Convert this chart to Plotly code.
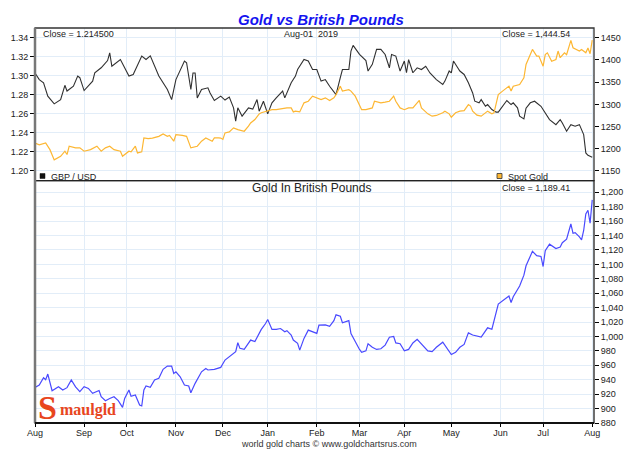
import plotly.graph_objects as go

# ---------------- data ----------------
gbp_dates = [
    "2018-08-01", "2018-08-03", "2018-08-07", "2018-08-09", "2018-08-14", "2018-08-17", "2018-08-21",
    "2018-08-22", "2018-08-27", "2018-08-29", "2018-08-30", "2018-09-03", "2018-09-07", "2018-09-10",
    "2018-09-13", "2018-09-18", "2018-09-19", "2018-09-20", "2018-09-26", "2018-10-02", "2018-10-04",
    "2018-10-10", "2018-10-12", "2018-10-16", "2018-10-22", "2018-10-26", "2018-10-30", "2018-11-01",
    "2018-11-07", "2018-11-08", "2018-11-12", "2018-11-13", "2018-11-14", "2018-11-15", "2018-11-19",
    "2018-11-22", "2018-11-23", "2018-11-27", "2018-11-30", "2018-12-04", "2018-12-06", "2018-12-10",
    "2018-12-11", "2018-12-12", "2018-12-14", "2018-12-19", "2018-12-21", "2018-12-25", "2018-12-26",
    "2018-12-28", "2019-01-01", "2019-01-03", "2019-01-07", "2019-01-10", "2019-01-11", "2019-01-16",
    "2019-01-18", "2019-01-21", "2019-01-24", "2019-01-28", "2019-01-30", "2019-02-01", "2019-02-05",
    "2019-02-07", "2019-02-11", "2019-02-14", "2019-02-18", "2019-02-19", "2019-02-22", "2019-02-25",
    "2019-02-26", "2019-03-01", "2019-03-06", "2019-03-07", "2019-03-11", "2019-03-13", "2019-03-15",
    "2019-03-19", "2019-03-21", "2019-03-22", "2019-03-26", "2019-03-28", "2019-04-01", "2019-04-02",
    "2019-04-03", "2019-04-05", "2019-04-09", "2019-04-11", "2019-04-15", "2019-04-17", "2019-04-22",
    "2019-04-25", "2019-04-26", "2019-04-30", "2019-05-01", "2019-05-02", "2019-05-06", "2019-05-07",
    "2019-05-09", "2019-05-13", "2019-05-15", "2019-05-16", "2019-05-20", "2019-05-21", "2019-05-23",
    "2019-05-24", "2019-05-28", "2019-05-30", "2019-05-31", "2019-06-04", "2019-06-06", "2019-06-10",
    "2019-06-11", "2019-06-13", "2019-06-14", "2019-06-18", "2019-06-19", "2019-06-21", "2019-06-25",
    "2019-06-28", "2019-07-02", "2019-07-04", "2019-07-09", "2019-07-11", "2019-07-12", "2019-07-16",
    "2019-07-18", "2019-07-22", "2019-07-24", "2019-07-26", "2019-07-29", "2019-07-30", "2019-07-31",
    "2019-08-01",
]
gbp_values = [
    1.303, 1.296, 1.2926, 1.2786, 1.2705, 1.275, 1.290,
    1.284, 1.289, 1.2997, 1.298, 1.2845, 1.2944, 1.303,
    1.3084, 1.316, 1.324, 1.310, 1.317, 1.2997, 1.3014,
    1.3207, 1.3172, 1.321, 1.2997, 1.2856, 1.275, 1.296,
    1.3155, 1.3137, 1.2856, 1.303, 1.303, 1.2768, 1.2856,
    1.2874, 1.282, 1.274, 1.2786, 1.2745, 1.2776, 1.2663,
    1.2523, 1.2663, 1.2576, 1.2663, 1.265, 1.275, 1.2628,
    1.2733, 1.260, 1.2716, 1.2768, 1.284, 1.2768, 1.2926,
    1.2997, 1.3066, 1.3172, 1.3155, 1.3066, 1.3066, 1.2944,
    1.296, 1.289, 1.2803, 1.298, 1.3066, 1.3066, 1.326,
    1.332, 1.3225, 1.316, 1.305, 1.312, 1.3277, 1.3277,
    1.3224, 1.3084, 1.3224, 1.3207, 1.305, 1.3155, 1.3032,
    1.317, 1.3032, 1.3084, 1.3066, 1.310, 1.303, 1.296,
    1.2908, 1.2944, 1.305, 1.303, 1.3155, 1.3084, 1.305,
    1.3014, 1.2926, 1.282, 1.2733, 1.2716, 1.275, 1.268,
    1.2698, 1.2646, 1.2618, 1.2618, 1.268, 1.274, 1.2698,
    1.2716, 1.2663, 1.2576, 1.2547, 1.266, 1.2716, 1.2733,
    1.268, 1.261, 1.254, 1.2487, 1.254, 1.2505, 1.2418,
    1.2487, 1.247, 1.2487, 1.2382, 1.219, 1.2165, 1.2155,
    1.2145,
]

gold_dates = [
    "2018-08-01", "2018-08-03", "2018-08-08", "2018-08-10", "2018-08-14", "2018-08-17", "2018-08-21",
    "2018-08-22", "2018-08-23", "2018-08-28", "2018-08-30", "2018-09-03", "2018-09-06", "2018-09-11",
    "2018-09-13", "2018-09-17", "2018-09-19", "2018-09-21", "2018-09-26", "2018-09-27", "2018-10-02",
    "2018-10-03", "2018-10-05", "2018-10-08", "2018-10-10", "2018-10-11", "2018-10-15", "2018-10-17",
    "2018-10-22", "2018-10-24", "2018-10-26", "2018-10-29", "2018-10-31", "2018-11-01", "2018-11-06",
    "2018-11-08", "2018-11-12", "2018-11-15", "2018-11-19", "2018-11-21", "2018-11-26", "2018-11-27",
    "2018-11-29", "2018-11-30", "2018-12-03", "2018-12-04", "2018-12-06", "2018-12-10", "2018-12-12",
    "2018-12-17", "2018-12-19", "2018-12-20", "2018-12-24", "2018-12-26", "2018-12-27", "2019-01-01",
    "2019-01-03", "2019-01-07", "2019-01-10", "2019-01-14", "2019-01-16", "2019-01-17", "2019-01-18",
    "2019-01-22", "2019-01-24", "2019-01-28", "2019-01-30", "2019-02-01", "2019-02-05", "2019-02-07",
    "2019-02-11", "2019-02-13", "2019-02-14", "2019-02-18", "2019-02-19", "2019-02-22", "2019-02-25",
    "2019-02-27", "2019-03-01", "2019-03-04", "2019-03-06", "2019-03-11", "2019-03-12", "2019-03-15",
    "2019-03-19", "2019-03-21", "2019-03-25", "2019-03-26", "2019-03-28", "2019-04-01", "2019-04-03",
    "2019-04-05", "2019-04-09", "2019-04-10", "2019-04-11", "2019-04-16", "2019-04-18", "2019-04-22",
    "2019-04-25", "2019-04-26", "2019-04-30", "2019-05-01", "2019-05-03", "2019-05-07", "2019-05-09",
    "2019-05-13", "2019-05-14", "2019-05-15", "2019-05-17", "2019-05-21", "2019-05-24", "2019-05-28",
    "2019-05-29", "2019-05-31", "2019-06-04", "2019-06-05", "2019-06-07", "2019-06-10", "2019-06-11",
    "2019-06-14", "2019-06-18", "2019-06-19", "2019-06-21", "2019-06-24", "2019-06-26", "2019-06-27",
    "2019-07-01", "2019-07-02", "2019-07-03", "2019-07-05", "2019-07-09", "2019-07-10", "2019-07-11",
    "2019-07-15", "2019-07-16", "2019-07-18", "2019-07-19", "2019-07-24", "2019-07-25", "2019-07-29",
    "2019-07-30", "2019-07-31", "2019-08-01",
]
gold_values = [
    1213, 1209, 1213, 1198, 1175, 1183, 1194.5,
    1187, 1205.7, 1202, 1202, 1194.5, 1198, 1205.7,
    1194.5, 1202, 1205.7, 1198, 1194.5, 1183, 1194.5,
    1193, 1205.7, 1190.6, 1193, 1224.4, 1223, 1224,
    1228, 1233.5, 1228, 1230, 1217, 1232, 1230,
    1228, 1202, 1205.7, 1217, 1224.4, 1217, 1224.4,
    1224.4, 1224, 1221, 1235.7, 1238, 1247, 1243,
    1239.5, 1250.8, 1258, 1265.7, 1278.6, 1281, 1284.7,
    1288, 1288, 1290.5, 1292, 1292, 1283, 1284.7,
    1283, 1303.4, 1307, 1318.5, 1314.7, 1310.8, 1314.7,
    1308.6, 1314.7, 1322, 1341, 1329.8, 1333, 1329.8,
    1318.5, 1296, 1288, 1288, 1292, 1307, 1303.4,
    1305, 1307, 1318.5, 1307, 1292, 1288, 1292,
    1292, 1303.4, 1308.6, 1292, 1278.6, 1273.4, 1275,
    1281, 1284.7, 1278.6, 1271, 1281, 1284.7, 1286,
    1299.6, 1296, 1284.7, 1275.7, 1273.4, 1284.7, 1278.6,
    1281, 1322, 1329.8, 1333, 1341, 1329.8, 1341,
    1344.7, 1359.8, 1389.8, 1412, 1423.6, 1408.7, 1408.7,
    1386, 1412, 1416, 1397, 1401, 1420, 1405,
    1416, 1412, 1444, 1427.4, 1420, 1423.6, 1416,
    1427, 1414, 1444.54,
]

gbpgold_dates = [
    "2018-08-01", "2018-08-03", "2018-08-07", "2018-08-08", "2018-08-09", "2018-08-10", "2018-08-13",
    "2018-08-16", "2018-08-20", "2018-08-22", "2018-08-24", "2018-08-28", "2018-08-30", "2018-09-03",
    "2018-09-05", "2018-09-07", "2018-09-12", "2018-09-13", "2018-09-17", "2018-09-19", "2018-09-21",
    "2018-09-25", "2018-09-27", "2018-09-28", "2018-10-02", "2018-10-03", "2018-10-05", "2018-10-09",
    "2018-10-10", "2018-10-11", "2018-10-12", "2018-10-16", "2018-10-18", "2018-10-22", "2018-10-24",
    "2018-10-26", "2018-10-30", "2018-10-31", "2018-11-01", "2018-11-05", "2018-11-07", "2018-11-09",
    "2018-11-12", "2018-11-14", "2018-11-16", "2018-11-19", "2018-11-21", "2018-11-22", "2018-11-27",
    "2018-11-30", "2018-12-04", "2018-12-06", "2018-12-11", "2018-12-12", "2018-12-13", "2018-12-17",
    "2018-12-19", "2018-12-20", "2018-12-24", "2018-12-26", "2018-12-27", "2018-12-31", "2019-01-01",
    "2019-01-03", "2019-01-07", "2019-01-09", "2019-01-11", "2019-01-14", "2019-01-16", "2019-01-17",
    "2019-01-21", "2019-01-22", "2019-01-24", "2019-01-28", "2019-01-30", "2019-02-01", "2019-02-04",
    "2019-02-07", "2019-02-11", "2019-02-13", "2019-02-14", "2019-02-18", "2019-02-19", "2019-02-22",
    "2019-02-25", "2019-02-27", "2019-03-01", "2019-03-04", "2019-03-06", "2019-03-07", "2019-03-11",
    "2019-03-13", "2019-03-15", "2019-03-19", "2019-03-21", "2019-03-25", "2019-03-26", "2019-03-28",
    "2019-04-01", "2019-04-03", "2019-04-05", "2019-04-09", "2019-04-11", "2019-04-16", "2019-04-18",
    "2019-04-22", "2019-04-25", "2019-04-30", "2019-05-01", "2019-05-03", "2019-05-07", "2019-05-09",
    "2019-05-13", "2019-05-15", "2019-05-17", "2019-05-21", "2019-05-24", "2019-05-28", "2019-05-31",
    "2019-06-04", "2019-06-07", "2019-06-10", "2019-06-11", "2019-06-14", "2019-06-18", "2019-06-19",
    "2019-06-21", "2019-06-24", "2019-06-26", "2019-06-28", "2019-07-01", "2019-07-02", "2019-07-04",
    "2019-07-09", "2019-07-11", "2019-07-12", "2019-07-16", "2019-07-18", "2019-07-19", "2019-07-22",
    "2019-07-24", "2019-07-25", "2019-07-26", "2019-07-29", "2019-07-30", "2019-07-31", "2019-08-01",
]
gbpgold_values = [
    929.4, 932.6, 942.8, 940, 947.9, 937.2, 924.8,
    930.3, 925.7, 929, 939.6, 930, 923.4, 930.3,
    928, 921.1, 925, 916.4, 910.9, 914, 916.4,
    911, 901.7, 914, 925.7, 917, 918.8, 905,
    903.6, 925.7, 931.3, 929.5, 939.6, 942, 954.4,
    958.9, 958.9, 948.8, 951, 944.1, 932.6, 931.3,
    922, 935, 946.5, 951, 955.7, 953.5, 954.4,
    957.1, 967.3, 971.8, 978.8, 991.3, 983.5, 982,
    990.4, 995, 993, 1004.3, 1009.8, 1018, 1023.6,
    1009.8, 1009.8, 1011, 1006.5, 1008, 1002, 995,
    990.4, 981.1, 997.3, 1008.8, 1006.5, 1004.3, 1015.8,
    1016, 1014, 1022, 1030, 1028, 1019, 1022,
    1004, 992, 982, 978, 980, 990, 985,
    982, 983, 988, 999, 1000, 991, 990,
    980, 982, 991, 996, 989, 980, 979,
    985, 992, 980, 975, 978, 985, 989,
    1005, 1002, 1001, 999, 1012, 1010, 1045,
    1049, 1056, 1047, 1055, 1070, 1085, 1098,
    1110, 1118, 1112, 1111, 1097, 1119, 1128,
    1122, 1124, 1130, 1135, 1156, 1143, 1144,
    1138, 1134, 1147, 1170, 1175, 1157, 1189.41,
]

month_ticks = ["2018-08-01", "2018-09-03", "2018-10-01", "2018-11-01", "2018-12-03", "2019-01-01",
               "2019-02-01", "2019-03-01", "2019-04-01", "2019-05-01", "2019-06-03", "2019-07-01",
               "2019-08-01"]
month_labels = ["Aug", "Sep", "Oct", "Nov", "Dec", "Jan", "Feb", "Mar", "Apr", "May", "Jun", "Jul", "Aug"]
gbp_ticks = [1.20, 1.22, 1.24, 1.26, 1.28, 1.30, 1.32, 1.34]
gold_ticks = [1150, 1200, 1250, 1300, 1350, 1400, 1450]
gbpgold_ticks = [880, 900, 920, 940, 960, 980, 1000, 1020, 1040, 1060, 1080, 1100, 1120, 1140,
                 1160, 1180, 1200]

# ---------------- layout helpers ----------------
W, H = 640, 458
ML, MR, MT, MB = 35, 46, 28, 35
PW, PH = W - ML - MR, H - MT - MB
def px(x):
    return (x - ML) / PW
def py(y):
    return (H - MB - y) / PH

SPLIT = py(180.7)
FONT = "Liberation Sans, Arial, sans-serif"
GRID = "#e2edf8"
TXT = "#222222"

fig = go.Figure()
fig.add_trace(go.Scatter(x=gbp_dates, y=gbp_values, xaxis="x2", yaxis="y", mode="lines",
                         line=dict(color="#303030", width=1.1), name="GBP / USD"))
fig.add_trace(go.Scatter(x=gold_dates, y=gold_values, xaxis="x2", yaxis="y2", mode="lines",
                         line=dict(color="#fdb733", width=1.2), name="Spot Gold"))
fig.add_trace(go.Scatter(x=gbpgold_dates, y=gbpgold_values, xaxis="x", yaxis="y3", mode="lines",
                         line=dict(color="#4949ff", width=1.2), name="Gold In British Pounds"))

breaks = [dict(bounds=["sat", "mon"])]
xrange = ["2018-08-01", "2019-08-01 20:00"]
tickfont = dict(family=FONT, size=9, color=TXT)

fig.update_layout(
    template="none",
    width=W, height=H, margin=dict(l=ML, r=MR, t=MT, b=MB, autoexpand=False),
    paper_bgcolor="white", plot_bgcolor="white", showlegend=False,
    xaxis=dict(domain=[0, 1], anchor="y3", type="date", range=xrange, rangebreaks=breaks,
               tickmode="array", tickvals=month_ticks, ticktext=month_labels,
               ticks="outside", ticklen=3, tickcolor="#000", tickfont=tickfont, automargin=False,
               ticklabelstandoff=-2,
               showgrid=True, gridcolor=GRID, gridwidth=1, zeroline=False, showline=False),
    xaxis2=dict(domain=[0, 1], anchor="y", type="date", range=xrange, rangebreaks=breaks,
                matches="x", tickmode="array", tickvals=month_ticks, showticklabels=False,
                automargin=False,
                ticks="", showgrid=True, gridcolor=GRID, gridwidth=1, zeroline=False, showline=False),
    yaxis=dict(domain=[SPLIT, 1], anchor="x2", side="left", range=[1.1898, 1.3502],
               tickmode="array", tickvals=gbp_ticks, ticktext=["%.2f" % v for v in gbp_ticks],
               ticks="outside", ticklen=4, tickcolor="#000", tickfont=tickfont, automargin=False,
               showgrid=True, gridcolor=GRID, zeroline=False, showline=False),
    yaxis2=dict(overlaying="y", anchor="x2", side="right", range=[1128.1, 1471.9],
                tickmode="array", tickvals=gold_ticks, ticktext=[str(v) for v in gold_ticks],
                ticks="outside", ticklen=4, tickcolor="#000", tickfont=tickfont, automargin=False,
                showgrid=False, zeroline=False, showline=False),
    yaxis3=dict(domain=[0, SPLIT], anchor="x", side="right", range=[880, 1216],
                tickmode="array", tickvals=gbpgold_ticks,
                ticktext=["{:,}".format(v) for v in gbpgold_ticks],
                ticks="outside", ticklen=4, tickcolor="#000", tickfont=tickfont, automargin=False,
                showgrid=True, gridcolor=GRID, zeroline=False, showline=False),
)

shapes = [
    dict(type="rect", xref="paper", yref="paper", x0=0, x1=1, y0=SPLIT, y1=1,
         line=dict(color="#333", width=1.3)),
    dict(type="rect", xref="paper", yref="paper", x0=0, x1=1, y0=0, y1=SPLIT,
         line=dict(color="#222", width=1.3)),
    dict(type="line", xref="paper", yref="paper", x0=0, x1=0, y0=0, y1=1,
         line=dict(color="#777", width=2.5)),
    dict(type="line", xref="paper", yref="paper", x0=0, x1=1, y0=0, y1=0,
         line=dict(color="#111", width=1.8)),
    # legend swatches
    dict(type="rect", xref="paper", yref="paper", x0=px(40), x1=px(45), y0=py(178.5), y1=py(173.5),
         fillcolor="#111", line=dict(color="#111", width=0.5)),
    dict(type="rect", xref="paper", yref="paper", x0=px(497), x1=px(502), y0=py(178.5), y1=py(173.5),
         fillcolor="#fdb733", line=dict(color="#333", width=0.8)),
]
fig.update_layout(shapes=shapes)

def note(text, x, y, size=9, xanchor="left", color=TXT, family=FONT, **kw):
    fig.add_annotation(text=text, x=px(x), y=py(y), xref="paper", yref="paper",
                       xanchor=xanchor, yanchor="middle", showarrow=False,
                       font=dict(family=family, size=size, color=color), **kw)

note("<b><i>Gold vs British Pounds</i></b>", 321, 20, size=15, xanchor="center", color="#1414f0")
note("Close = 1.214500", 41, 34)
note("Aug-01&nbsp;&nbsp;2019", 311, 34, xanchor="center")
note("Close = 1,444.54", 500, 34)
note("GBP / USD", 49, 176.5)
note("Spot Gold", 506, 176.5)
note("Gold In British Pounds", 311, 188, size=12, xanchor="center")
note("Close = 1,189.41", 500, 187.5)
note("world gold charts © www.goldchartsrus.com", 329, 444, xanchor="center", color="#333")
note("<b>S</b>", 36, 407, size=34, color="#e8461e", family="Liberation Serif, serif")
note("<b>maulgld</b>", 58, 410, size=16, color="#e8461e", family="Liberation Serif, serif")

fig.write_html("out.html", config={"displayModeBar": False},
               post_script="document.body.style.margin='0';document.body.style.padding='0';")
